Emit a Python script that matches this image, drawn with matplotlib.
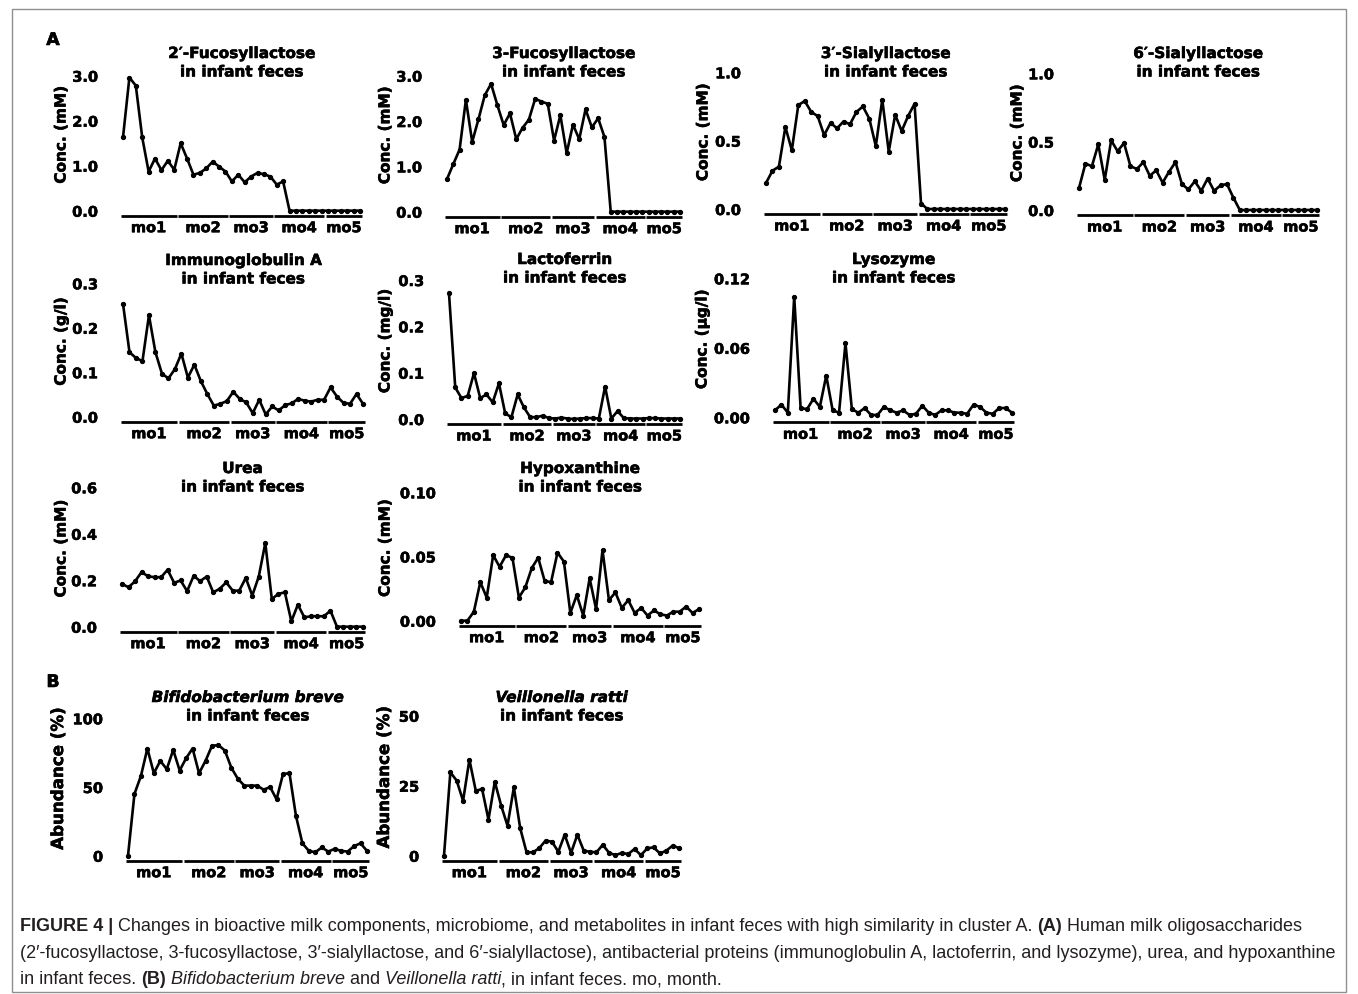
import matplotlib
matplotlib.use('Agg')
import matplotlib.pyplot as plt
import matplotlib.patheffects as pe
from matplotlib.patches import Rectangle
from matplotlib.transforms import blended_transform_factory, offset_copy
import numpy as np

W, H = 1358, 995

# sampling months (number of fecal samples per month)
months = ['mo1', 'mo2', 'mo3', 'mo4', 'mo5']
month_sizes = [9, 8, 7, 8, 6]

# human milk oligosaccharides (mM)
fl2 = [1.63, 2.96, 2.78, 1.63, 0.87, 1.16, 0.90, 1.11, 0.91, 1.50, 1.16, 0.80, 0.84,
       0.94, 1.09, 0.98, 0.87, 0.65, 0.80, 0.63, 0.76, 0.84, 0.81, 0.76, 0.58, 0.65,
       0, 0, 0, 0, 0, 0, 0, 0, 0, 0, 0, 0]
fl3 = [0.72, 1.05, 1.37, 2.47, 1.54, 2.04, 2.57, 2.82, 2.35, 1.91, 2.17, 1.60, 1.85,
       2.03, 2.49, 2.43, 2.38, 1.57, 2.13, 1.29, 1.92, 1.60, 2.26, 1.86, 2.06, 1.65,
       0, 0, 0, 0, 0, 0, 0, 0, 0, 0, 0, 0]
sl3 = [0.19, 0.28, 0.31, 0.60, 0.43, 0.76, 0.79, 0.71, 0.68, 0.54, 0.63, 0.59, 0.64,
       0.62, 0.71, 0.75, 0.66, 0.46, 0.80, 0.42, 0.69, 0.57, 0.68, 0.77, 0.04,
       0, 0, 0, 0, 0, 0, 0, 0, 0, 0, 0, 0, 0]
sl6 = [0.16, 0.34, 0.32, 0.48, 0.22, 0.51, 0.43, 0.49, 0.32, 0.30, 0.35, 0.25, 0.29,
       0.20, 0.28, 0.35, 0.19, 0.15, 0.21, 0.14, 0.23, 0.14, 0.18, 0.19, 0.09,
       0, 0, 0, 0, 0, 0, 0, 0, 0, 0, 0, 0, 0]

# antibacterial proteins
iga = [0.254, 0.145, 0.132, 0.125, 0.228, 0.145, 0.097, 0.086, 0.107, 0.142,
       0.088, 0.117, 0.080, 0.051, 0.025, 0.029, 0.035, 0.056, 0.040, 0.032,
       0.008, 0.038, 0.005, 0.023, 0.014, 0.026, 0.030, 0.040, 0.036, 0.034,
       0.038, 0.038, 0.066, 0.045, 0.031, 0.029, 0.051, 0.029]
lacto = [0.271, 0.068, 0.045, 0.050, 0.099, 0.045, 0.053, 0.036, 0.077, 0.012,
         0.004, 0.053, 0.025, 0.004, 0.004, 0.007, 0.002, 0.001, 0.003, 0.001,
         0.000, 0.001, 0.002, 0.002, 0.001, 0.070, 0.001, 0.017, 0.002, 0.001,
         0.001, 0.001, 0.002, 0.002, 0.001, 0.001, 0.001, 0.001]
lyso = [0.006, 0.011, 0.004, 0.104, 0.008, 0.007, 0.016, 0.009, 0.036, 0.006,
        0.004, 0.064, 0.007, 0.004, 0.008, 0.002, 0.002, 0.009, 0.006, 0.004,
        0.006, 0.002, 0.003, 0.010, 0.004, 0.002, 0.006, 0.006, 0.004, 0.004,
        0.003, 0.011, 0.009, 0.004, 0.003, 0.008, 0.008, 0.004]

# metabolites (mM)
urea = [0.184, 0.170, 0.195, 0.235, 0.217, 0.213, 0.213, 0.245, 0.189, 0.199,
        0.153, 0.219, 0.196, 0.216, 0.148, 0.163, 0.191, 0.155, 0.155, 0.210,
        0.134, 0.216, 0.360, 0.119, 0.141, 0.148, 0.023, 0.095, 0.040, 0.045,
        0.045, 0.045, 0.069, 0, 0, 0, 0, 0]
hypo = [0.000, 0.000, 0.007, 0.030, 0.018, 0.051, 0.042, 0.051, 0.049, 0.018,
        0.026, 0.041, 0.049, 0.031, 0.030, 0.053, 0.046, 0.006, 0.020, 0.004,
        0.033, 0.009, 0.055, 0.016, 0.022, 0.010, 0.016, 0.006, 0.010, 0.004,
        0.008, 0.005, 0.004, 0.007, 0.007, 0.011, 0.006, 0.009]

# microbiome, relative abundance (%)
breve = [0, 45, 58, 78, 60, 69, 63, 77, 62, 71, 78, 60, 69, 80, 80.5, 76.5, 64, 56,
         51, 51, 51, 48, 50, 41, 59.5, 60, 29, 9, 3.5, 2.5, 6, 3, 5, 3.5, 3, 7, 9, 3.5]
ratti = [0, 29.8, 26.8, 19.6, 34.3, 23.2, 23.8, 12.9, 26.4, 17.9, 10.7, 24.4, 9.8,
         1.2, 1.2, 2.7, 5.4, 5.0, 1.4, 7.5, 1.0, 7.5, 1.8, 1.4, 1.2, 3.9, 1.0, 0.2,
         1.0, 0.6, 2.4, 0.2, 2.6, 3.0, 0.8, 1.8, 3.6, 2.7]

# panel layout in pixels: first/last sample x, y of zero, y of top tick,
# x of the y-label, y of the second title line
panels = [
    (fl2, '2′-Fucosyllactose', False, 'Conc. (mM)', [0, 1, 2, 3], '{:.1f}', 123, 360, 211.7, 76.7, 61, 73),
    (fl3, '3-Fucosyllactose', False, 'Conc. (mM)', [0, 1, 2, 3], '{:.1f}', 447, 680, 212.7, 76.7, 385, 73),
    (sl3, '3′-Sialyllactose', False, 'Conc. (mM)', [0, 0.5, 1.0], '{:.1f}', 766, 1005, 210, 73.3, 703, 73),
    (sl6, '6′-Sialyllactose', False, 'Conc. (mM)', [0, 0.5, 1.0], '{:.1f}', 1079, 1317, 211, 74.3, 1017, 73),
    (iga, 'Immunoglobulin A', False, 'Conc. (g/l)', [0, 0.1, 0.2, 0.3], '{:.1f}', 123, 363, 417.7, 284.3, 61, 280),
    (lacto, 'Lactoferrin', False, 'Conc. (mg/l)', [0, 0.1, 0.2, 0.3], '{:.1f}', 449, 680, 420, 281, 385, 279),
    (lyso, 'Lysozyme', False, 'Conc. (µg/l)', [0, 0.06, 0.12], '{:.2f}', 775, 1012, 418.3, 279.3, 702, 279),
    (urea, 'Urea', False, 'Conc. (mM)', [0, 0.2, 0.4, 0.6], '{:.1f}', 122, 363, 627.7, 488.3, 61, 488),
    (hypo, 'Hypoxanthine', False, 'Conc. (mM)', [0, 0.05, 0.10], '{:.2f}', 461, 699, 621.7, 493.3, 385, 488),
    (breve, 'Bifidobacterium breve', True, 'Abundance (%)', [0, 50, 100], '{:.0f}', 128, 367, 856.7, 719.3, 58, 717),
    (ratti, 'Veillonella ratti', True, 'Abundance (%)', [0, 25, 50], '{:.0f}', 444, 679, 856.7, 716.7, 384, 717),
]

plt.rcParams['font.family'] = ['DejaVu Sans']
fig = plt.figure(figsize=(W / 100, H / 100), dpi=100)
fig.patch.set_facecolor('white')

# slightly heavier strokes for the chart lettering
heavy = [pe.withStroke(linewidth=0.4, foreground='black')]

# outer frame
fig.patches.append(Rectangle((12 / W, 1 - 993 / H), 1334 / W, 983 / H, transform=fig.transFigure,
                             fill=False, edgecolor='#8f8f8f', lw=1.0))

x = np.arange(38)
starts = np.cumsum([0] + month_sizes[:-1])
ends = starts + np.array(month_sizes) - 1

for vals, title, italic, ylab, ticks, fmt, x0, x1, y0, ytop, ylx, ty in panels:
    step = (x1 - x0) / 37
    left, right = x0 - step / 2, x1 + step / 2
    ax = fig.add_axes([left / W, 1 - y0 / H, (right - left) / W, (y0 - ytop) / H])
    ax.plot(x, vals, color='black', lw=1.9, marker='o', ms=2.8, clip_on=False)
    ax.set_xlim(-0.5, 37.5)
    ax.set_ylim(0, ticks[-1])
    ax.set_xticks([])
    ax.set_yticks(ticks)
    ax.set_yticklabels([fmt.format(t) for t in ticks], fontweight='bold', fontsize=10.5)
    for lbl in ax.get_yticklabels():
        lbl.set_path_effects(heavy)
    ax.tick_params(axis='y', length=0, pad=15.5)
    for s in ax.spines.values():
        s.set_visible(False)
    ax.patch.set_alpha(0)

    base = blended_transform_factory(ax.transData, ax.transAxes)
    bar_tr = offset_copy(base, fig=fig, y=-5, units='dots')
    lab_tr = offset_copy(base, fig=fig, y=-17, units='dots')
    for m, s0, s1 in zip(months, starts, ends):
        ax.plot([s0 - 0.38, s1 + 0.38], [0, 0], color='black', lw=2.0,
                solid_capstyle='butt', transform=bar_tr, clip_on=False)
        ax.text((s0 + s1) / 2, 0, m, transform=lab_tr, ha='center', va='center',
                fontsize=10.5, fontweight='bold', path_effects=heavy)

    cx = (left + right) / 2
    fig.text(cx / W, 1 - (ty - 18.5) / H, title, ha='center', va='center', fontsize=11,
             fontweight='bold', fontstyle='italic' if italic else 'normal', path_effects=heavy)
    fig.text(cx / W, 1 - ty / H, 'in infant feces', ha='center', va='center',
             fontsize=11, fontweight='bold', path_effects=heavy)
    fig.text(ylx / W, 1 - (y0 + ytop - 16) / 2 / H, ylab, rotation=90, ha='center', va='center',
             fontsize=12 if ylab.startswith('Ab') else 11, fontweight='bold', path_effects=heavy)

fig.text(53 / W, 1 - 41 / H, 'A', ha='center', va='center', fontsize=12.5, fontweight='bold',
         path_effects=heavy)
fig.text(53 / W, 1 - 683 / H, 'B', ha='center', va='center', fontsize=12.5, fontweight='bold',
         path_effects=heavy)

# caption, drawn run by run so bold/italic pieces sit inline
cap_font = 'Liberation Sans'
cap_lines = [
    [('FIGURE 4 |', 'bold', 'normal'),
     (' Changes in bioactive milk components, microbiome, and metabolites in infant feces with high similarity in cluster A. ', 'normal', 'normal'),
     ('(A)', 'bold', 'normal'),
     (' Human milk oligosaccharides', 'normal', 'normal')],
    [('(2′-fucosyllactose, 3-fucosyllactose, 3′-sialyllactose, and 6′-sialyllactose), antibacterial proteins (immunoglobulin A, lactoferrin, and lysozyme), urea, and hypoxanthine', 'normal', 'normal')],
    [('in infant feces. ', 'normal', 'normal'),
     ('(B)', 'bold', 'normal'),
     (' ', 'normal', 'normal'),
     ('Bifidobacterium breve', 'normal', 'italic'),
     (' and ', 'normal', 'normal'),
     ('Veillonella ratti', 'normal', 'italic'),
     (', in infant feces. mo, month.', 'normal', 'normal')],
]
cap_y = [927, 954, 980]
renderer = fig.canvas.get_renderer()


def run_width(text, weight, style, size):
    t = fig.text(0, 0, '|' + text + '|', fontsize=size, fontweight=weight, fontstyle=style, family=cap_font)
    t2 = fig.text(0, 0, '||', fontsize=size, fontweight=weight, fontstyle=style, family=cap_font)
    w = t.get_window_extent(renderer).width - t2.get_window_extent(renderer).width
    t.remove()
    t2.remove()
    return w


# fit the long second line to the caption width
ref_size = 12
w2 = sum(run_width(t, wt, st, ref_size) for t, wt, st in cap_lines[1])
cap_size = ref_size * 1316 / w2

for line, yy in zip(cap_lines, cap_y):
    xx = 20
    for text, wt, st in line:
        fig.text(xx / W, 1 - yy / H, text, fontsize=cap_size, fontweight=wt, fontstyle=st,
                 family=cap_font, color='#231f20', ha='left', va='center')
        xx += run_width(text, wt, st, cap_size)

fig.savefig('out.png', dpi=100, facecolor='white')
